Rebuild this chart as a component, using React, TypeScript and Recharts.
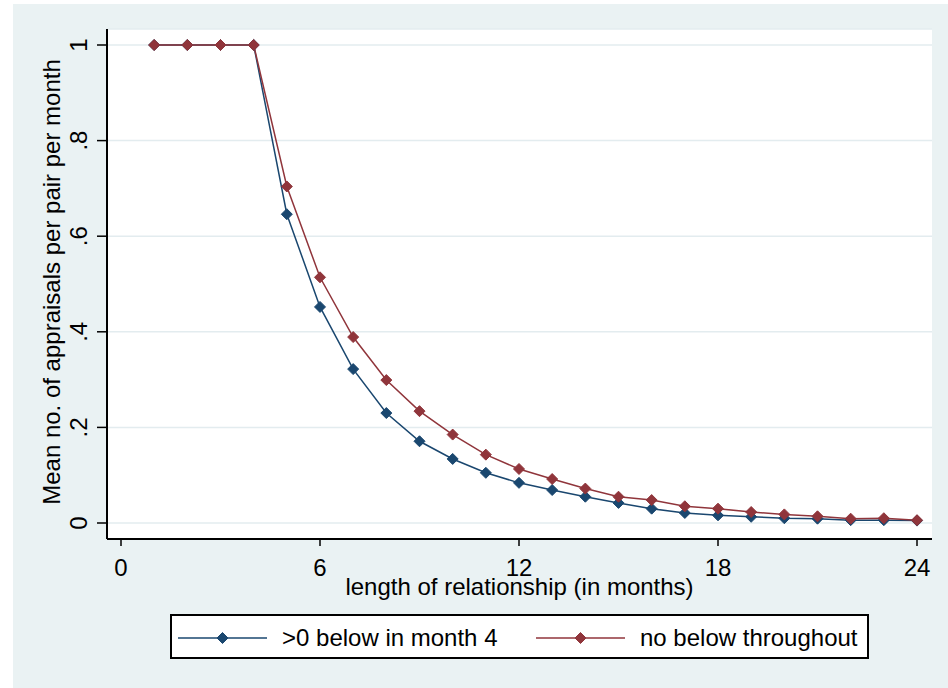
import React from "react";
import { LineChart, Line, XAxis, YAxis, CartesianGrid } from "recharts";

const months = [1, 2, 3, 4, 5, 6, 7, 8, 9, 10, 11, 12, 13, 14, 15, 16, 17, 18, 19, 20, 21, 22, 23, 24];
const belowMonth4 = [
  1, 1, 1, 1, 0.646, 0.452, 0.322, 0.23, 0.171, 0.134, 0.105, 0.084, 0.069, 0.055, 0.042, 0.03,
  0.021, 0.016, 0.013, 0.01, 0.009, 0.006, 0.006, 0.005
];
const noBelow = [
  1, 1, 1, 1, 0.704, 0.514, 0.389, 0.299, 0.234, 0.185, 0.143, 0.113, 0.092, 0.072, 0.055, 0.048,
  0.035, 0.03, 0.023, 0.018, 0.014, 0.009, 0.01, 0.006
];
const xTicks = [0, 6, 12, 18, 24];
const yTicks = [0, 0.2, 0.4, 0.6, 0.8, 1];
const yTickLabels = ["0", ".2", ".4", ".6", ".8", "1"];
const seriesNames = [">0 below in month 4", "no below throughout"];
const xTitle = "length of relationship (in months)";
const yTitle = "Mean no. of appraisals per pair per month";

const BLUE = "#1a476f";
const RED = "#90353b";
const BG = "#eaf2f3";
const FONT = "'Liberation Sans', Arial, sans-serif";

const data = months.map((m, i) => ({ month: m, below: belowMonth4[i], none: noBelow[i] }));

// small diamond marker like stata's "D"
const diamond = (color: string) => (props: any) => {
  const { cx, cy, index } = props;
  if (cx == null || cy == null) return <g key={index} />;
  const r = 5.5;
  return (
    <path
      key={index}
      d={`M${cx},${cy - r}L${cx + r},${cy}L${cx},${cy + r}L${cx - r},${cy}Z`}
      fill={color}
      stroke={color}
      strokeWidth={1}
      strokeLinejoin="round"
    />
  );
};

const XTick = (props: any) => {
  const { x, payload } = props;
  return (
    <text x={x} y={576} textAnchor="middle" fontSize={24} fontFamily={FONT} fill="#000">
      {payload.value}
    </text>
  );
};

const YTick = (props: any) => {
  const { y, payload } = props;
  const idx = yTicks.findIndex((t) => Math.abs(t - payload.value) < 1e-6);
  return (
    <text
      x={87}
      y={y}
      transform={`rotate(-90, 87, ${y})`}
      textAnchor="middle"
      fontSize={24}
      fontFamily={FONT}
      fill="#000"
    >
      {idx >= 0 ? yTickLabels[idx] : payload.value}
    </text>
  );
};

const LegendItem = ({ color, left, textLeft, label }: any) => (
  <>
    <svg style={{ position: "absolute", left, top: 12, overflow: "visible" }} width={89} height={20}>
      <line x1={0} y1={10} x2={89} y2={10} stroke={color} strokeWidth={1.5} />
      <path d="M44.5,4.5L50,10L44.5,15.5L39,10Z" fill={color} stroke={color} strokeLinejoin="round" />
    </svg>
    <span
      style={{
        position: "absolute",
        left: textLeft,
        top: 8,
        fontSize: 24,
        lineHeight: "28px",
        fontFamily: FONT,
        color: "#000",
        whiteSpace: "nowrap"
      }}
    >
      {label}
    </span>
  </>
);

export default function App() {
  return (
    <div style={{ position: "absolute", left: 0, top: 0, width: 948, height: 688, background: "#fff" }}>
      <div style={{ position: "absolute", left: 13, top: 4, width: 935, height: 684, background: BG }} />
      <div style={{ position: "absolute", left: 0, top: 0 }}>
        <LineChart width={948} height={688} data={data} margin={{ top: 29, right: 16, left: 0, bottom: 119 }}>
          <CartesianGrid vertical={false} stroke="#e3ecef" strokeWidth={1.5} fill="#fff" />
          <XAxis
            dataKey="month"
            type="number"
            domain={[0, 24]}
            ticks={xTicks}
            padding={{ left: 14, right: 15 }}
            height={30}
            tickSize={7}
            axisLine={{ stroke: "#000", strokeWidth: 2 }}
            tickLine={{ stroke: "#000", strokeWidth: 1.5 }}
            tick={<XTick />}
            label={{
              content: (p: any) => {
                const vb = p.viewBox;
                return (
                  <text
                    x={vb.x + vb.width / 2}
                    y={595}
                    textAnchor="middle"
                    fontSize={24}
                    fontFamily={FONT}
                    fill="#000"
                  >
                    {xTitle}
                  </text>
                );
              }
            }}
          />
          <YAxis
            type="number"
            domain={[0, 1]}
            ticks={yTicks}
            padding={{ top: 16, bottom: 16 }}
            width={107}
            tickSize={10}
            axisLine={{ stroke: "#000", strokeWidth: 2 }}
            tickLine={{ stroke: "#000", strokeWidth: 1.5 }}
            tick={<YTick />}
            label={{
              content: (p: any) => {
                const vb = p.viewBox;
                const cy = vb.y + vb.height / 2 - 2;
                return (
                  <text
                    x={60}
                    y={cy}
                    transform={`rotate(-90, 60, ${cy})`}
                    textAnchor="middle"
                    fontSize={24}
                    fontFamily={FONT}
                    fill="#000"
                  >
                    {yTitle}
                  </text>
                );
              }
            }}
          />
          <Line
            dataKey="below"
            name={seriesNames[0]}
            stroke={BLUE}
            strokeWidth={1.5}
            dot={diamond(BLUE)}
            activeDot={false}
            isAnimationActive={false}
          />
          <Line
            dataKey="none"
            name={seriesNames[1]}
            stroke={RED}
            strokeWidth={1.5}
            dot={diamond(RED)}
            activeDot={false}
            isAnimationActive={false}
          />
        </LineChart>
      </div>
      <div
        style={{
          position: "absolute",
          left: 170,
          top: 614,
          width: 699,
          height: 45,
          boxSizing: "border-box",
          border: "2px solid #000",
          background: "#fff"
        }}
      >
        <LegendItem color={BLUE} left={6} textLeft={110} label={seriesNames[0]} />
        <LegendItem color={RED} left={364} textLeft={468} label={seriesNames[1]} />
      </div>
    </div>
  );
}
